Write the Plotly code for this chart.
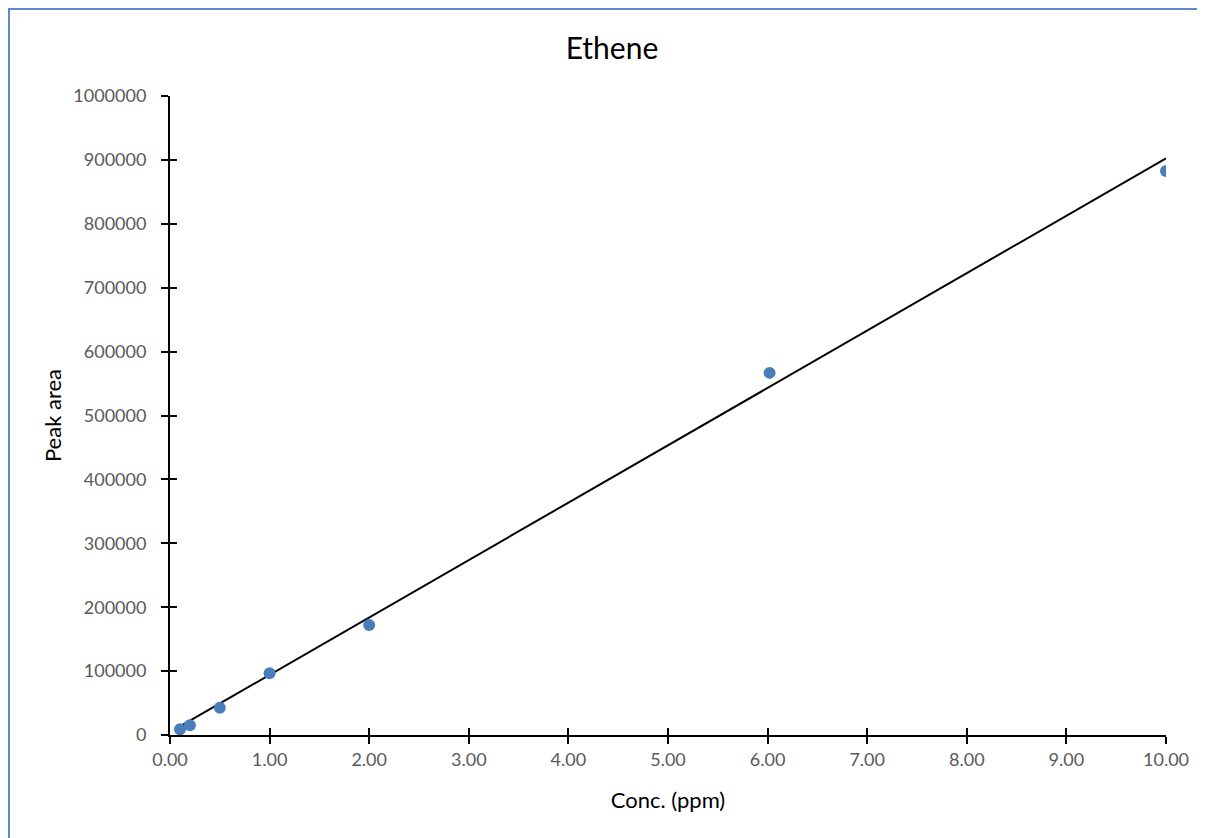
import plotly.graph_objects as go

# Data
conc_ppm = [0.1, 0.2, 0.5, 1.0, 2.0, 6.02, 10.0]
peak_area = [9000, 15200, 42800, 96700, 172300, 566700, 882500]

# Linear trendline
trend_x = [0.1, 10.0]
trend_slope = 89800
trend_intercept = 4400
trend_y = [trend_intercept + trend_slope * v for v in trend_x]

x_ticks = [0, 1, 2, 3, 4, 5, 6, 7, 8, 9, 10]
x_tick_labels = ["0.00", "1.00", "2.00", "3.00", "4.00", "5.00", "6.00", "7.00", "8.00", "9.00", "10.00"]
y_ticks = [0, 100000, 200000, 300000, 400000, 500000, 600000, 700000, 800000, 900000, 1000000]
y_tick_labels = [str(v) for v in y_ticks]

# page has an 8px body margin, so the figure is offset by 8px
W, H = 1197, 830
ML, MT = 162, 88
PW, PH = 996, 639
MR, MB = W - ML - PW, H - MT - PH

FONT = "Lato"
TICK_COLOR = "#595959"

fig = go.Figure()
fig.add_trace(go.Scatter(
    x=trend_x, y=trend_y, mode="lines",
    line=dict(color="black", width=2), showlegend=False, hoverinfo="skip"))
fig.add_trace(go.Scatter(
    x=conc_ppm, y=peak_area, mode="markers",
    marker=dict(color="#4a7ebb", size=12), showlegend=False, name="Peak area"))
# empty trace to host the overlay axes (used for crossing tick marks)
fig.add_trace(go.Scatter(x=[None], y=[None], xaxis="x2", yaxis="y2",
                         showlegend=False, hoverinfo="skip"))

axis_common = dict(showgrid=False, zeroline=False, showline=True,
                   linecolor="black", linewidth=2, ticks="outside",
                   ticklen=7, tickwidth=2, tickcolor="black")

fig.update_layout(
    width=W, height=H,
    margin=dict(l=ML, r=MR, t=MT, b=MB),
    paper_bgcolor="white", plot_bgcolor="white",
    title=dict(text="Ethene", x=604 / W, xanchor="center",
               y=1 - 40 / H, yanchor="middle",
               font=dict(family=FONT, size=30, color="black")),
    xaxis=dict(range=[0, 10], tickvals=x_ticks, ticktext=x_tick_labels,
               tickfont=dict(family=FONT, size=18, color=TICK_COLOR),
               title=dict(text="Conc. (ppm)", standoff=24,
                          font=dict(family=FONT, size=22, color="black")),
               **axis_common),
    yaxis=dict(range=[0, 1000000], tickvals=y_ticks, ticktext=y_tick_labels,
               tickfont=dict(family=FONT, size=18, color=TICK_COLOR),
               ticklabelstandoff=11,
               title=dict(text="Peak area", standoff=6,
                          font=dict(family=FONT, size=22, color="black")),
               **axis_common),
    xaxis2=dict(range=[0, 10], tickvals=x_ticks, overlaying="x", anchor="y",
                side="bottom", showticklabels=False, showgrid=False,
                zeroline=False, showline=False, ticks="inside", ticklen=7,
                tickwidth=2, tickcolor="black"),
    yaxis2=dict(range=[0, 1000000], tickvals=y_ticks, overlaying="y", anchor="x",
                side="left", showticklabels=False, showgrid=False,
                zeroline=False, showline=False, ticks="inside", ticklen=7,
                tickwidth=2, tickcolor="black"),
    shapes=[dict(type="rect", xref="paper", yref="paper",
                 x0=(1 - ML) / PW, x1=1.2, y0=-0.4, y1=1 + (MT - 1) / PH,
                 line=dict(color="#5b8bc9", width=2), layer="below")],
)

fig.write_html("out.html")
